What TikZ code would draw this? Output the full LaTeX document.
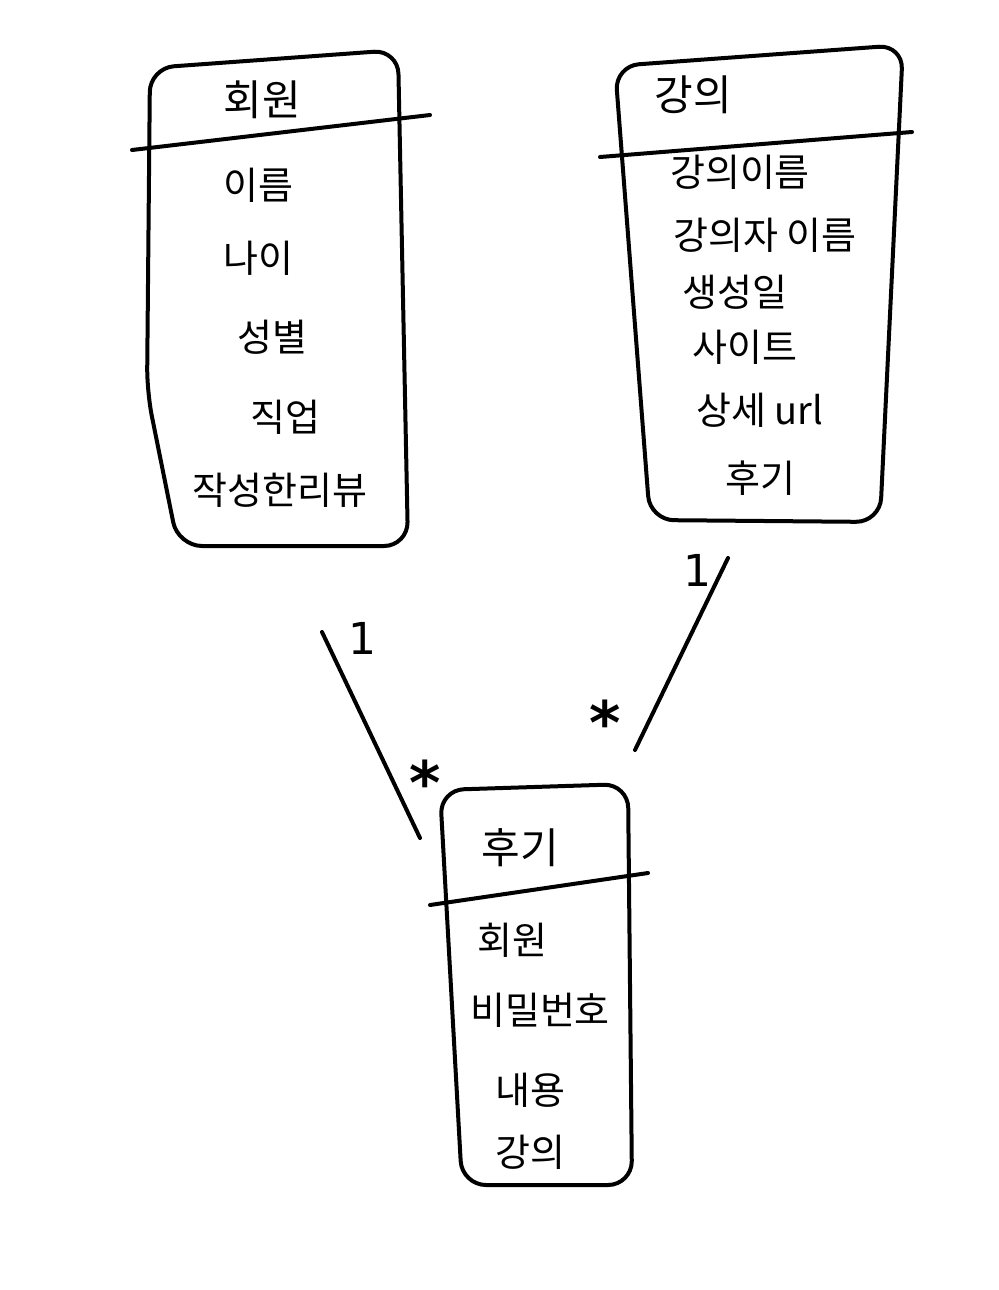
\documentclass[tikz,border=0pt]{standalone}
\usepackage{fontspec}
\newfontfamily\kr{Noto Sans CJK KR}
\newfontfamily\djsans{DejaVu Sans}
\begin{document}
\begin{tikzpicture}[x=0.5pt,y=-0.5pt,
  outline/.style={line width=2pt,line cap=round,line join=round,rounded corners=12pt},
  rule/.style={line width=2pt,line cap=round},
  conn/.style={line width=2pt,line cap=round},
  title/.style={font=\kr\fontsize{21}{24}\selectfont,inner sep=0pt},
  attr/.style={font=\kr\fontsize{19}{22}\selectfont,inner sep=0pt},
  mult/.style={font=\djsans\fontsize{22}{24}\selectfont,inner sep=0pt},
  star/.style={font=\djsans\bfseries\fontsize{30}{32}\selectfont,inner sep=0pt}]
\useasboundingbox (0,0) rectangle (999,1290);
\fill[white] (0,0) rectangle (999,1290);

% ---------- 회원 ----------
\draw[outline] (150,68) -- (398,50) -- (408,546) -- (178,546) -- (147,392) -- cycle;
\draw[rule] (132,150) -- (430,115);
\node[title] (mT) at (262,100) {회원};
\node[attr] (m1) at (258,185) {이름};
\node[attr] (m2) at (258,258) {나이};
\node[attr] (m3) at (272,337) {성별};
\node[attr] (m4) at (285,417) {직업};
\node[attr] (m5) at (280,490) {작성한리뷰};

% ---------- 강의 ----------
\draw[outline] (615,66) -- (903,45) -- (880,522) -- (650,520) -- cycle;
\draw[rule] (600,157) -- (912,132);
\node[title] (lT) at (693,95) {강의};
\node[attr] (l1) at (740,172) {강의이름};
\node[attr] (l2) at (765,235) {강의자 이름};
\node[attr] (l3) at (735,292) {생성일};
\node[attr] (l4) at (745,347) {사이트};
\node[attr] (l5) at (760,410) {상세 url};
\node[attr] (l6) at (760,478) {후기};

% ---------- 후기 ----------
\draw[outline] (440,790) -- (628,784) -- (632,1185) -- (462,1185) -- cycle;
\draw[rule] (430,905) -- (648,873);
\node[title] (rT) at (520,848) {후기};
\node[attr] (r1) at (512,940) {회원};
\node[attr] (r2) at (540,1010) {비밀번호};
\node[attr] (r3) at (530,1090) {내용};
\node[attr] (r4) at (530,1152) {강의};

% ---------- connectors ----------
\coordinate (a1) at (322,632);
\coordinate (a2) at (420,838);
\coordinate (b1) at (728,558);
\coordinate (b2) at (635,750);
\draw[conn] (a1) -- (a2);
\draw[conn] (b1) -- (b2);
\node[mult] (am) at (362,638) {1};
\node[star] (an) at (425,782) {*};
\node[mult] (bm) at (697,570) {1};
\node[star] (bn) at (605,722) {*};
\end{tikzpicture}
\end{document}
